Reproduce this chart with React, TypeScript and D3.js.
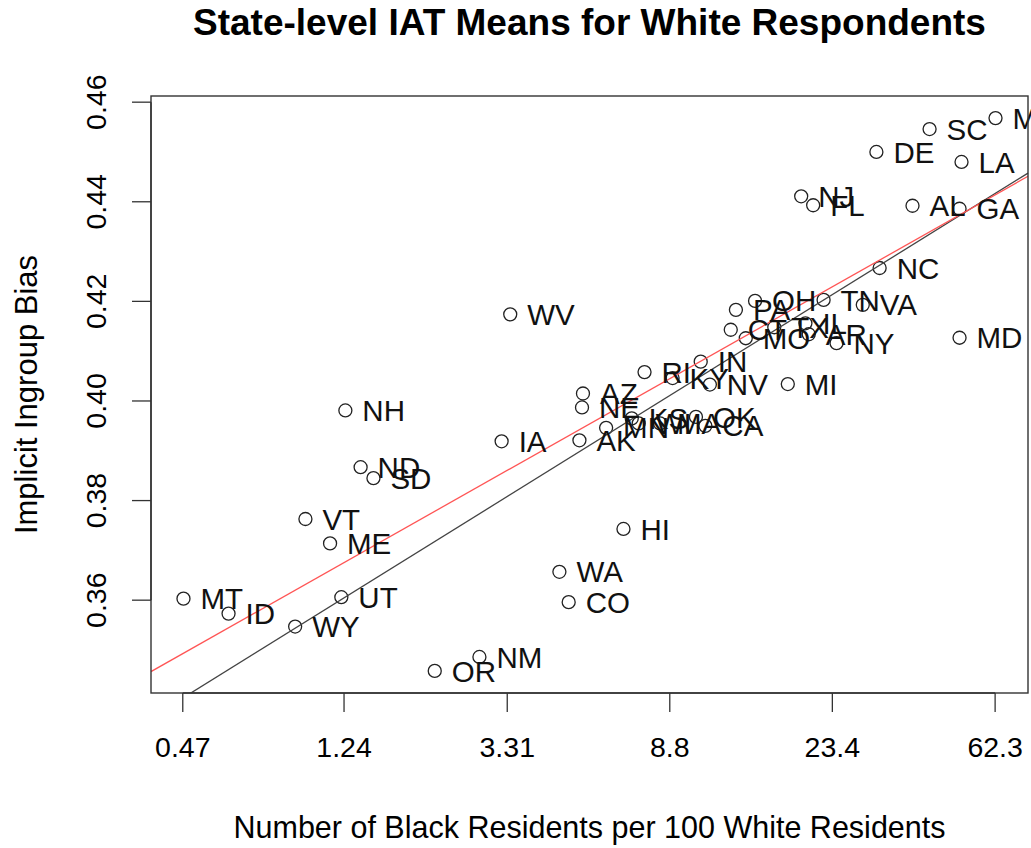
import React from "react";
import * as d3 from "d3";

const states = [
  "MS", "SC", "DE", "LA", "NJ", "FL", "AL", "GA", "NC", "TN",
  "VA", "OH", "PA", "CT", "TX", "IL", "AR", "MO", "NY", "MD",
  "MI", "RI", "KY", "IN", "NV", "AZ", "NE", "KS", "OK", "MN",
  "WI", "MA", "CA", "AK", "WV", "IA", "NH", "ND", "SD", "VT",
  "ME", "MT", "ID", "UT", "WY", "HI", "WA", "CO", "NM", "OR",
];
const blackPer100White = [
  62.45, 42.0, 30.5, 50.9, 19.4, 20.85, 37.9, 50.3, 31.1, 22.2,
  28.1, 14.7, 13.1, 12.7, 16.5, 19.9, 20.3, 13.9, 24.0, 50.3,
  17.9, 7.56, 8.95, 10.6, 11.2, 5.22, 5.19, 7.0, 10.3, 6.0,
  7.3, 8.3, 10.9, 5.11, 3.37, 3.2, 1.25, 1.37, 1.48, 0.983,
  1.14, 0.472, 0.619, 1.22, 0.924, 6.66, 4.53, 4.79, 2.8, 2.14,
];
const iatMeans = [
  0.4568, 0.4546, 0.45, 0.448, 0.4411, 0.4393, 0.4392, 0.4386, 0.4267, 0.4203,
  0.4193, 0.4201, 0.4183, 0.4143, 0.4148, 0.4156, 0.4134, 0.4126, 0.4116, 0.4127,
  0.4034, 0.4058, 0.4046, 0.4079, 0.4033, 0.4015, 0.3987, 0.3965, 0.3968, 0.3946,
  0.3955, 0.3955, 0.395, 0.3921, 0.4174, 0.3919, 0.3981, 0.3867, 0.3845, 0.3763,
  0.3714, 0.3603, 0.3573, 0.3606, 0.3547, 0.3743, 0.3657, 0.3596, 0.3486, 0.3458,
];

const xTickValues = [0.47, 1.24, 3.31, 8.8, 23.4, 62.3];
const xTickLabels = ["0.47", "1.24", "3.31", "8.8", "23.4", "62.3"];
const yTickValues = [0.36, 0.38, 0.4, 0.42, 0.44, 0.46];

// fits on log(x): [intercept, slope]
const blackFit = [0.356, 0.02073];
const redFit = [0.3635, 0.01885];

const W = 1031;
const H = 848;
const left = 151;
const right = 1028;
const top = 96;
const bottom = 693;
const font = "'Liberation Sans', Arial, Helvetica, sans-serif";

export default function App() {
  // R style axis: 4% padding on each side
  const [lx0, lx1] = d3.extent(blackPer100White.map(Math.log)) as [number, number];
  const px = (lx1 - lx0) * 0.04;
  const [y0, y1] = d3.extent(iatMeans) as [number, number];
  const py = (y1 - y0) * 0.04;

  const x = d3.scaleLog().domain([Math.exp(lx0 - px), Math.exp(lx1 + px)]).range([left, right]);
  const y = d3.scaleLinear().domain([y0 - py, y1 + py]).range([bottom, top]);

  const fitLine = (fit: number[]) => {
    const [a, b] = fit;
    const [d0, d1] = x.domain();
    return d3.line<number>()
      .x((d) => x(d))
      .y((d) => y(a + b * Math.log(d)))([d0, d1]) as string;
  };

  return (
    <svg width={W} height={H} style={{ position: "absolute", left: 0, top: 0, background: "#fff" }}
      fontFamily={font}>
      <defs>
        <clipPath id="plotArea">
          <rect x={left} y={top} width={right - left + 3} height={bottom - top} />
        </clipPath>
      </defs>
      <text x={(left + right) / 2} y={35} textAnchor="middle" fontSize={37} fontWeight="bold">
        State-level IAT Means for White Respondents
      </text>

      {/* points */}
      {states.map((s, i) => (
        <circle key={s} cx={x(blackPer100White[i])} cy={y(iatMeans[i])} r={6.5}
          fill="none" stroke="#222" strokeWidth={1.3} />
      ))}

      <g clipPath="url(#plotArea)">
        <path d={fitLine(blackFit)} stroke="#444" strokeWidth={1.3} fill="none" />
        <path d={fitLine(redFit)} stroke="#f55" strokeWidth={1.3} fill="none" />
        {states.map((s, i) => (
          <text key={s} x={x(blackPer100White[i]) + 17} y={y(iatMeans[i])} dy="0.36em"
            fontSize={29.5} fill="#111">
            {s}
          </text>
        ))}
      </g>

      <rect x={left} y={top} width={right - left} height={bottom - top}
        fill="none" stroke="#333" strokeWidth={1.4} />

      {/* x axis */}
      <line x1={x(xTickValues[0])} x2={x(xTickValues[xTickValues.length - 1])} y1={bottom} y2={bottom}
        stroke="#333" strokeWidth={1.4} />
      {xTickValues.map((v, i) => (
        <g key={v} transform={`translate(${x(v)},0)`}>
          <line y1={bottom} y2={bottom + 19} stroke="#333" strokeWidth={1.3} />
          <text y={757} textAnchor="middle" fontSize={28.5}>{xTickLabels[i]}</text>
        </g>
      ))}
      <text x={(left + right) / 2 } y={838} textAnchor="middle" fontSize={30.5}>
        Number of Black Residents per 100 White Residents
      </text>

      {/* y axis */}
      <line x1={left} x2={left} y1={y(yTickValues[0])} y2={y(yTickValues[yTickValues.length - 1])}
        stroke="#333" strokeWidth={1.4} />
      {yTickValues.map((v) => (
        <g key={v} transform={`translate(0,${y(v)})`}>
          <line x1={left - 19} x2={left} stroke="#333" strokeWidth={1.3} />
          <text transform={`translate(106,0) rotate(-90)`} textAnchor="middle" fontSize={28.5}>
            {d3.format(".2f")(v)}
          </text>
        </g>
      ))}
      <text transform={`translate(37,${(top + bottom) / 2}) rotate(-90)`} textAnchor="middle" fontSize={31}>
        Implicit Ingroup Bias
      </text>
    </svg>
  );
}
